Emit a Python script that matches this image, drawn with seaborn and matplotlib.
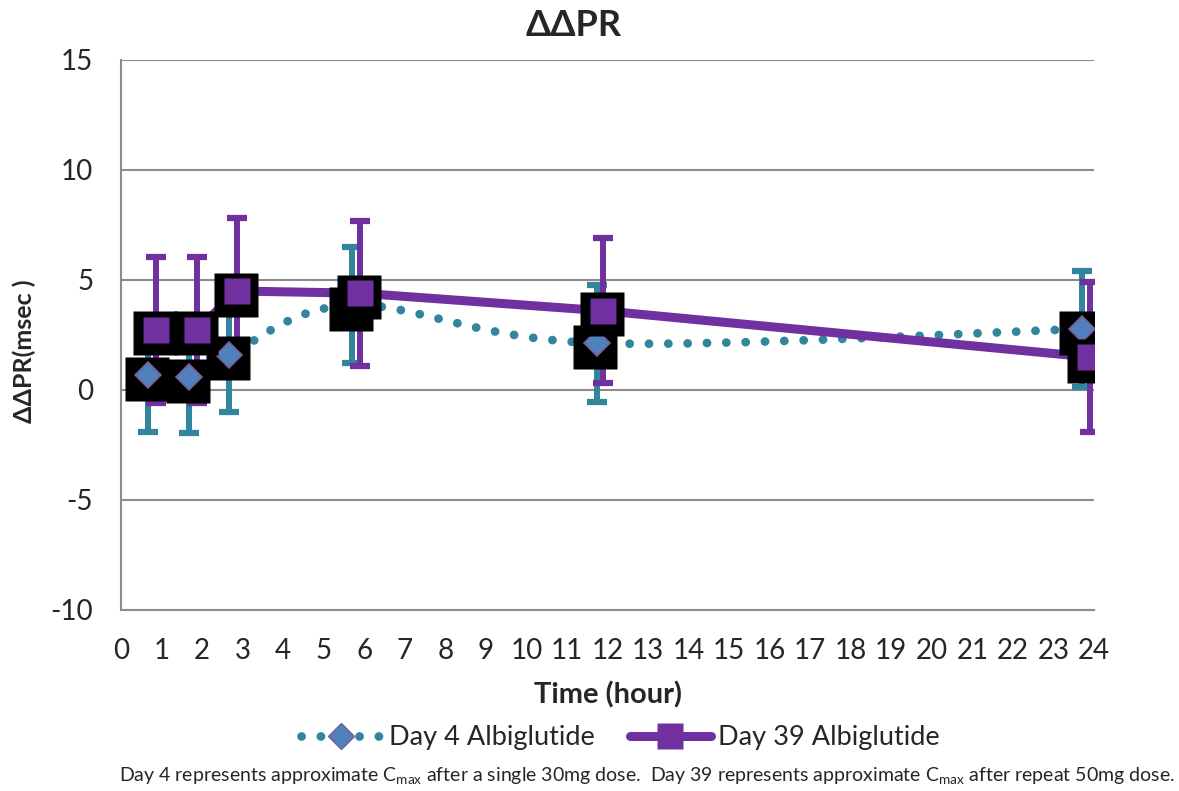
import numpy as np
import pandas as pd
import matplotlib
matplotlib.use("Agg")
import matplotlib.pyplot as plt
from matplotlib.path import Path
from matplotlib.patches import PathPatch
from matplotlib.lines import Line2D
import seaborn as sns

# values (time in hours, change in PR in msec)
day4_time = [0.67, 1.68, 2.67, 5.70, 11.73, 23.70]
day4_ddpr = [0.68, 0.59, 1.60, 3.86, 2.13, 2.77]
day4_err = [2.58, 2.55, 2.60, 2.65, 2.66, 2.63]

day39_time = [0.87, 1.88, 2.87, 5.90, 11.90, 23.90]
day39_ddpr = [2.73, 2.73, 4.50, 4.40, 3.60, 1.50]
day39_err = [3.30, 3.30, 3.30, 3.30, 3.30, 3.40]

x_ticks = list(range(0, 25))
y_ticks = [-10, -5, 0, 5, 10, 15]

teal = "#31859C"
purple = "#7030A0"
diamond_blue = "#4F81BD"

sns.set_style("white")
plt.rcParams["font.family"] = ["Lato", "DejaVu Sans"]
plt.rcParams["mathtext.fontset"] = "custom"
plt.rcParams["mathtext.rm"] = "Lato"

df4 = pd.DataFrame({"time": day4_time, "ddpr": day4_ddpr, "err": day4_err})
df39 = pd.DataFrame({"time": day39_time, "ddpr": day39_ddpr, "err": day39_err})

fig = plt.figure(figsize=(11.79, 7.91), dpi=100)
ax = fig.add_axes([121 / 1179, 1 - 610 / 791, (1094 - 121) / 1179, 550 / 791])


def smooth_path(xs, ys):
    # bezier rendering of the line through the points (like excel's smoothed line)
    pts = np.column_stack([xs, ys])
    verts = [pts[0]]
    codes = [Path.MOVETO]
    n = len(pts)
    for i in range(n - 1):
        p0 = pts[max(i - 1, 0)]
        p1 = pts[i]
        p2 = pts[i + 1]
        p3 = pts[min(i + 2, n - 1)]
        verts += [p1 + (p2 - p0) / 6, p2 - (p3 - p1) / 6, p2]
        codes += [Path.CURVE4] * 3
    return Path(verts, codes)


# error bars
ax.errorbar(df4["time"], df4["ddpr"], yerr=df4["err"], fmt="none", ecolor=teal,
            elinewidth=4.3, capsize=7.5, capthick=4.5, zorder=2)
ax.errorbar(df39["time"], df39["ddpr"], yerr=df39["err"], fmt="none", ecolor=purple,
            elinewidth=4.3, capsize=7.5, capthick=4.5, zorder=2)

# day 4: smoothed dotted line
patch = PathPatch(smooth_path(df4["time"].values, df4["ddpr"].values), facecolor="none",
                  edgecolor=teal, linewidth=6.3, linestyle=(0, (0.01, 2.2)), zorder=3)
patch.set_capstyle("round")
ax.add_patch(patch)

# day 39: solid line
sns.lineplot(data=df39, x="time", y="ddpr", color=purple, linewidth=6.5, ax=ax,
             zorder=3, legend=False)

# marker shadows
ax.plot(df4["time"] - 0.03, df4["ddpr"] - 0.16, linestyle="none", marker="s", markersize=31.5,
        markerfacecolor="black", markeredgecolor="none", zorder=4)
ax.plot(df4["time"], df4["ddpr"], linestyle="none", marker="D", markersize=13.2,
        markerfacecolor=diamond_blue, markeredgecolor="#7B5A96", markeredgewidth=1.2, zorder=5)
ax.plot(df39["time"] - 0.03, df39["ddpr"] - 0.16, linestyle="none", marker="s", markersize=31.5,
        markerfacecolor="black", markeredgecolor="none", zorder=6)
ax.plot(df39["time"], df39["ddpr"], linestyle="none", marker="s", markersize=18.7,
        markerfacecolor=purple, markeredgecolor="none", zorder=7)

ax.set_xlim(0, 24)
ax.set_ylim(-10, 15)
ax.set_xticks(x_ticks)
ax.set_yticks(y_ticks)
ax.set_xticklabels([str(t) for t in x_ticks], fontsize=20)
ax.set_yticklabels([str(t) for t in y_ticks], fontsize=20)
ax.tick_params(axis="x", direction="in", length=9, width=1.5, color="#8C8C8C", pad=20)
ax.tick_params(axis="y", length=0, pad=20)
ax.grid(axis="y", color="#8C8C8C", linewidth=1.5)
ax.set_axisbelow(True)
for side in ["top", "right"]:
    ax.spines[side].set_visible(False)
for side in ["left", "bottom"]:
    ax.spines[side].set_color("#8C8C8C")
    ax.spines[side].set_linewidth(1.5)

ax.set_xlabel("Time (hour)", fontsize=21, fontweight="bold")
ax.xaxis.set_label_coords(0.5, -0.13)
ax.set_ylabel("ΔΔPR(msec )", fontsize=18, fontweight="bold")
ax.yaxis.set_label_coords(-0.087, 0.47)
fig.text(574 / 1179, 1 - 25 / 791, "ΔΔPR", fontsize=26, fontweight="bold", ha="center", va="center")

handles = [
    Line2D([], [], color=teal, linewidth=6.3, linestyle=(0, (0.01, 2.2)),
           dash_capstyle="round", marker="D", markersize=13.2,
           markerfacecolor=diamond_blue, markeredgecolor="#7B5A96"),
    Line2D([], [], color=purple, linewidth=6.5, marker="s", markersize=18.7,
           markerfacecolor=purple, markeredgecolor="none"),
]
fig.legend(handles, ["Day 4 Albiglutide", "Day 39 Albiglutide"], loc="center",
           bbox_to_anchor=(620 / 1179, 1 - 738 / 791), ncol=2, frameon=False,
           fontsize=19.5, handlelength=3.0, handletextpad=0.25, columnspacing=1.3)

fig.text(647 / 1179, 1 - 776 / 791,
         r"Day 4 represents approximate C$_{\mathrm{max}}$ after a single 30mg dose.  "
         r"Day 39 represents approximate C$_{\mathrm{max}}$ after repeat 50mg dose.",
         fontsize=14, ha="center", va="center")

fig.savefig("out.png", dpi=100)
